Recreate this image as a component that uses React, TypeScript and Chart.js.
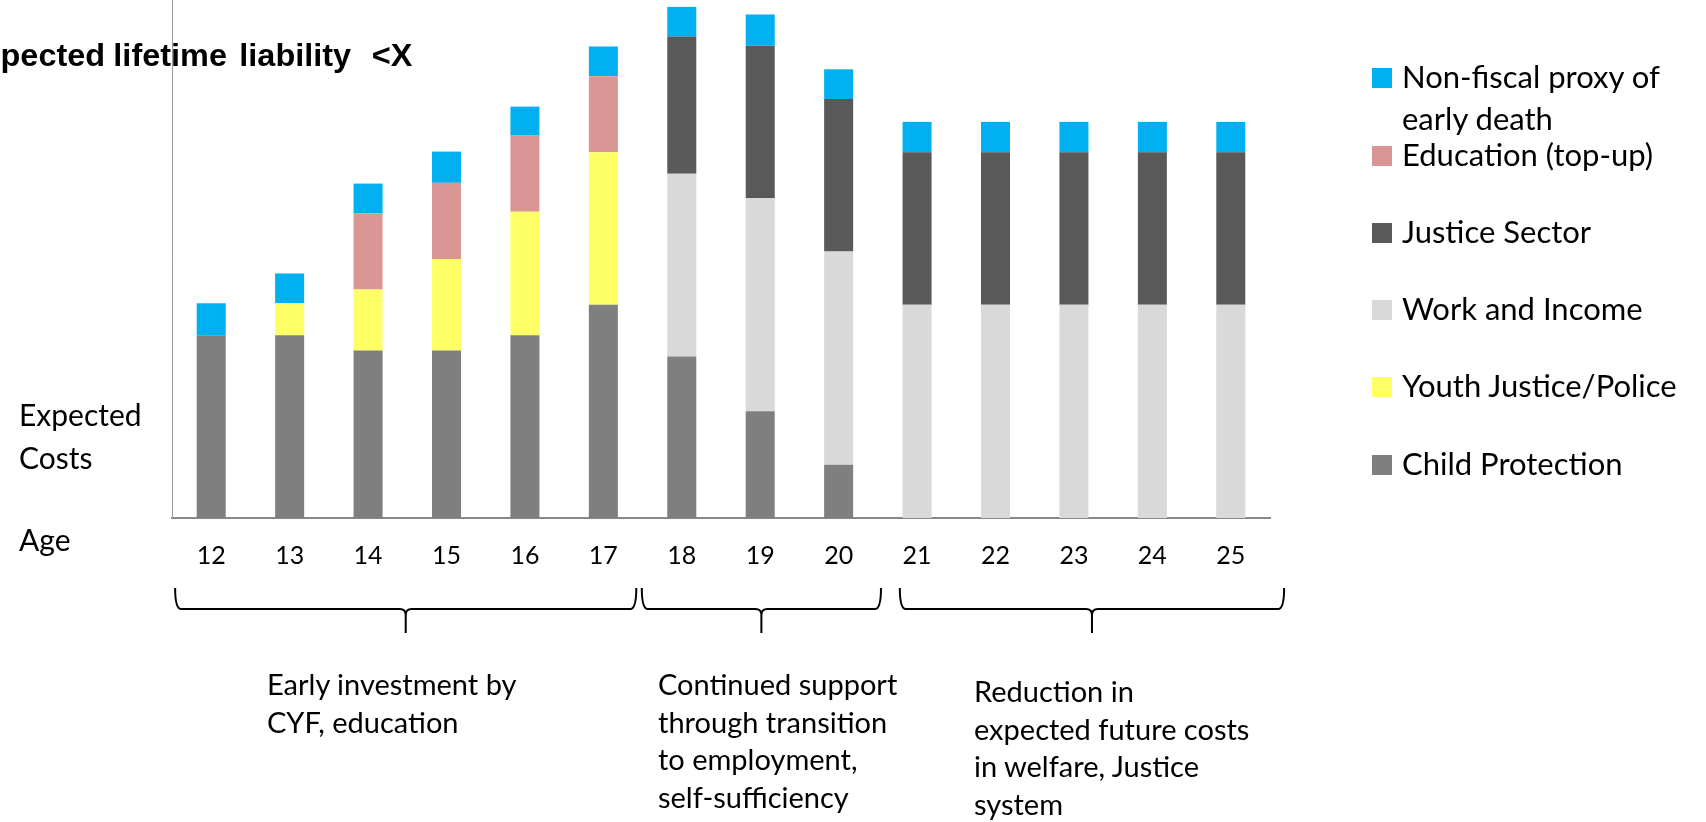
import React, { useEffect, useRef } from "react";
import { Chart, registerables } from "chart.js";

Chart.register(...registerables);

const ages = ["12", "13", "14", "15", "16", "17", "18", "19", "20", "21", "22", "23", "24", "25"];
const childProtection = [12, 12, 11, 11, 12, 14, 10.6, 7, 3.5, 0, 0, 0, 0, 0];
const youthJusticePolice = [0, 2.1, 4, 6, 8.1, 10, 0, 0, 0, 0, 0, 0, 0, 0];
const workAndIncome = [0, 0, 0, 0, 0, 0, 12, 14, 14, 14, 14, 14, 14, 14];
const justiceSector = [0, 0, 0, 0, 0, 0, 9, 10, 10, 10, 10, 10, 10, 10];
const educationTopUp = [0, 0, 5, 5, 5, 5, 0, 0, 0, 0, 0, 0, 0, 0];
const nonFiscalProxy = [2.1, 1.95, 1.95, 2.05, 1.9, 1.95, 1.95, 2.05, 1.95, 2, 2, 2, 2, 2];

const seriesNames = [
  "Child Protection",
  "Youth Justice/Police",
  "Work and Income",
  "Justice Sector",
  "Education (top-up)",
  "Non-fiscal proxy of early death",
];
const seriesColors = ["#7F7F7F", "#FFFF66", "#D9D9D9", "#595959", "#D99694", "#00B0F0"];

const titleWords = ["Expected", "lifetime", "liability", "<X"];
const titleGaps = [0, 8, 12, 20];

const legendItems = [
  { lines: ["Non-fiscal proxy of", "early death"], color: "#00B0F0", top: 55 },
  { lines: ["Education (top-up)"], color: "#D99694", top: 133 },
  { lines: ["Justice Sector"], color: "#595959", top: 210 },
  { lines: ["Work and Income"], color: "#D9D9D9", top: 287 },
  { lines: ["Youth Justice/Police"], color: "#FFFF66", top: 364 },
  { lines: ["Child Protection"], color: "#7F7F7F", top: 442 },
];

// brace spans in category-index units: [from, to]
const braceSpans = [
  [-0.46, 5.42],
  [5.49, 8.54],
  [8.78, 13.68],
];
const braceTexts = [
  { lines: ["Early investment by", "CYF, education"], left: 267, top: 665 },
  { lines: ["Continued support", "through transition", "to employment,", "self-sufficiency"], left: 658, top: 665 },
  { lines: ["Reduction in", "expected future costs", "in welfare, Justice", "system"], left: 974, top: 672 },
];

const bracePlugin = {
  id: "braces",
  afterDraw(chart: any) {
    const ctx = chart.ctx;
    const xs = chart.scales.x;
    const base = chart.chartArea.bottom;
    const yTop = base + 70;
    const yLine = base + 91;
    const yTip = base + 115;
    const r = 6;
    ctx.save();
    ctx.strokeStyle = "#000";
    ctx.lineWidth = 2;
    braceSpans.forEach(([a, b]) => {
      const x0 = xs.getPixelForValue(a);
      const x1 = xs.getPixelForValue(b);
      const xc = (x0 + x1) / 2;
      ctx.beginPath();
      ctx.moveTo(x0, yTop);
      ctx.quadraticCurveTo(x0, yLine, x0 + r, yLine);
      ctx.lineTo(xc - r, yLine);
      ctx.quadraticCurveTo(xc, yLine, xc, yLine + r);
      ctx.lineTo(xc, yTip);
      ctx.moveTo(x1, yTop);
      ctx.quadraticCurveTo(x1, yLine, x1 - r, yLine);
      ctx.lineTo(xc + r, yLine);
      ctx.quadraticCurveTo(xc, yLine, xc, yLine + r);
      ctx.stroke();
    });
    ctx.restore();
  },
};

export default function App() {
  const canvasRef = useRef<HTMLCanvasElement | null>(null);

  useEffect(() => {
    if (!canvasRef.current) return;
    const values = [childProtection, youthJusticePolice, workAndIncome, justiceSector, educationTopUp, nonFiscalProxy];
    const chart = new Chart(canvasRef.current, {
      type: "bar",
      data: {
        labels: ages,
        datasets: values.map((d, i) => ({
          label: seriesNames[i],
          data: d,
          backgroundColor: seriesColors[i],
          borderWidth: 0,
          barPercentage: 0.37,
          categoryPercentage: 1,
        })),
      },
      options: {
        animation: false,
        responsive: false,
        devicePixelRatio: 1,
        layout: { padding: { left: 172, right: 436, top: 0, bottom: 244 } },
        plugins: { legend: { display: false }, tooltip: { enabled: false } },
        scales: {
          x: {
            stacked: true,
            grid: { display: false, drawTicks: false },
            border: { display: true, color: "#888888", width: 2 },
            ticks: { color: "#000", font: { family: "Lato", size: 25 }, padding: 23, maxRotation: 0 },
            afterFit: (s: any) => {
              s.height = 60;
            },
          },
          y: {
            stacked: true,
            min: 0,
            max: 34,
            grid: { display: false, drawTicks: false },
            border: { display: true, color: "#9a9a9a", width: 1 },
            ticks: { display: false },
            afterFit: (s: any) => {
              s.width = 0;
            },
          },
        },
      },
      plugins: [bracePlugin],
    });
    return () => chart.destroy();
  }, []);

  const legendFont = { fontFamily: "Lato", fontSize: 31, lineHeight: "42px", color: "#000" };

  return (
    <div style={{ position: "fixed", left: 0, top: 0, width: 1706, height: 822, overflow: "hidden", background: "#fff" }}>
      <canvas ref={canvasRef} width={1706} height={822} style={{ position: "absolute", left: 0, top: 0, width: 1706, height: 822 }} />
      <div
        style={{
          position: "absolute",
          right: 1706 - 412,
          top: 39,
          whiteSpace: "pre",
          fontFamily: "'Liberation Sans', Arial, sans-serif",
          fontWeight: "bold",
          fontSize: 31.5,
          lineHeight: "32px",
          transform: "scaleX(1.03)",
          transformOrigin: "right center",
          color: "#000",
        }}
      >
        {titleWords.map((w, i) => (
          <span key={i} style={{ display: "inline-block", marginLeft: titleGaps[i] }}>
            {w}
          </span>
        ))}
      </div>
      <div style={{ position: "absolute", left: 19, top: 393, fontFamily: "Lato", fontSize: 30, lineHeight: "43px", color: "#000" }}>
        Expected
        <br />
        Costs
      </div>
      <div style={{ position: "absolute", left: 19, top: 518, fontFamily: "Lato", fontSize: 30, lineHeight: "43px", color: "#000" }}>
        Age
      </div>
      {legendItems.map((it, i) => (
        <div key={i}>
          <div style={{ position: "absolute", left: 1372, top: it.top + 13, width: 20, height: 20, background: it.color }} />
          <div style={{ position: "absolute", left: 1402, top: it.top, whiteSpace: "pre", ...legendFont }}>
            {it.lines.map((l, j) => (
              <div key={j}>{l}</div>
            ))}
          </div>
        </div>
      ))}
      {braceTexts.map((t, i) => (
        <div
          key={i}
          style={{ position: "absolute", left: t.left, top: t.top, whiteSpace: "pre", fontFamily: "Lato", fontSize: 29, lineHeight: "37.5px", color: "#000" }}
        >
          {t.lines.map((l, j) => (
            <div key={j}>{l}</div>
          ))}
        </div>
      ))}
    </div>
  );
}
